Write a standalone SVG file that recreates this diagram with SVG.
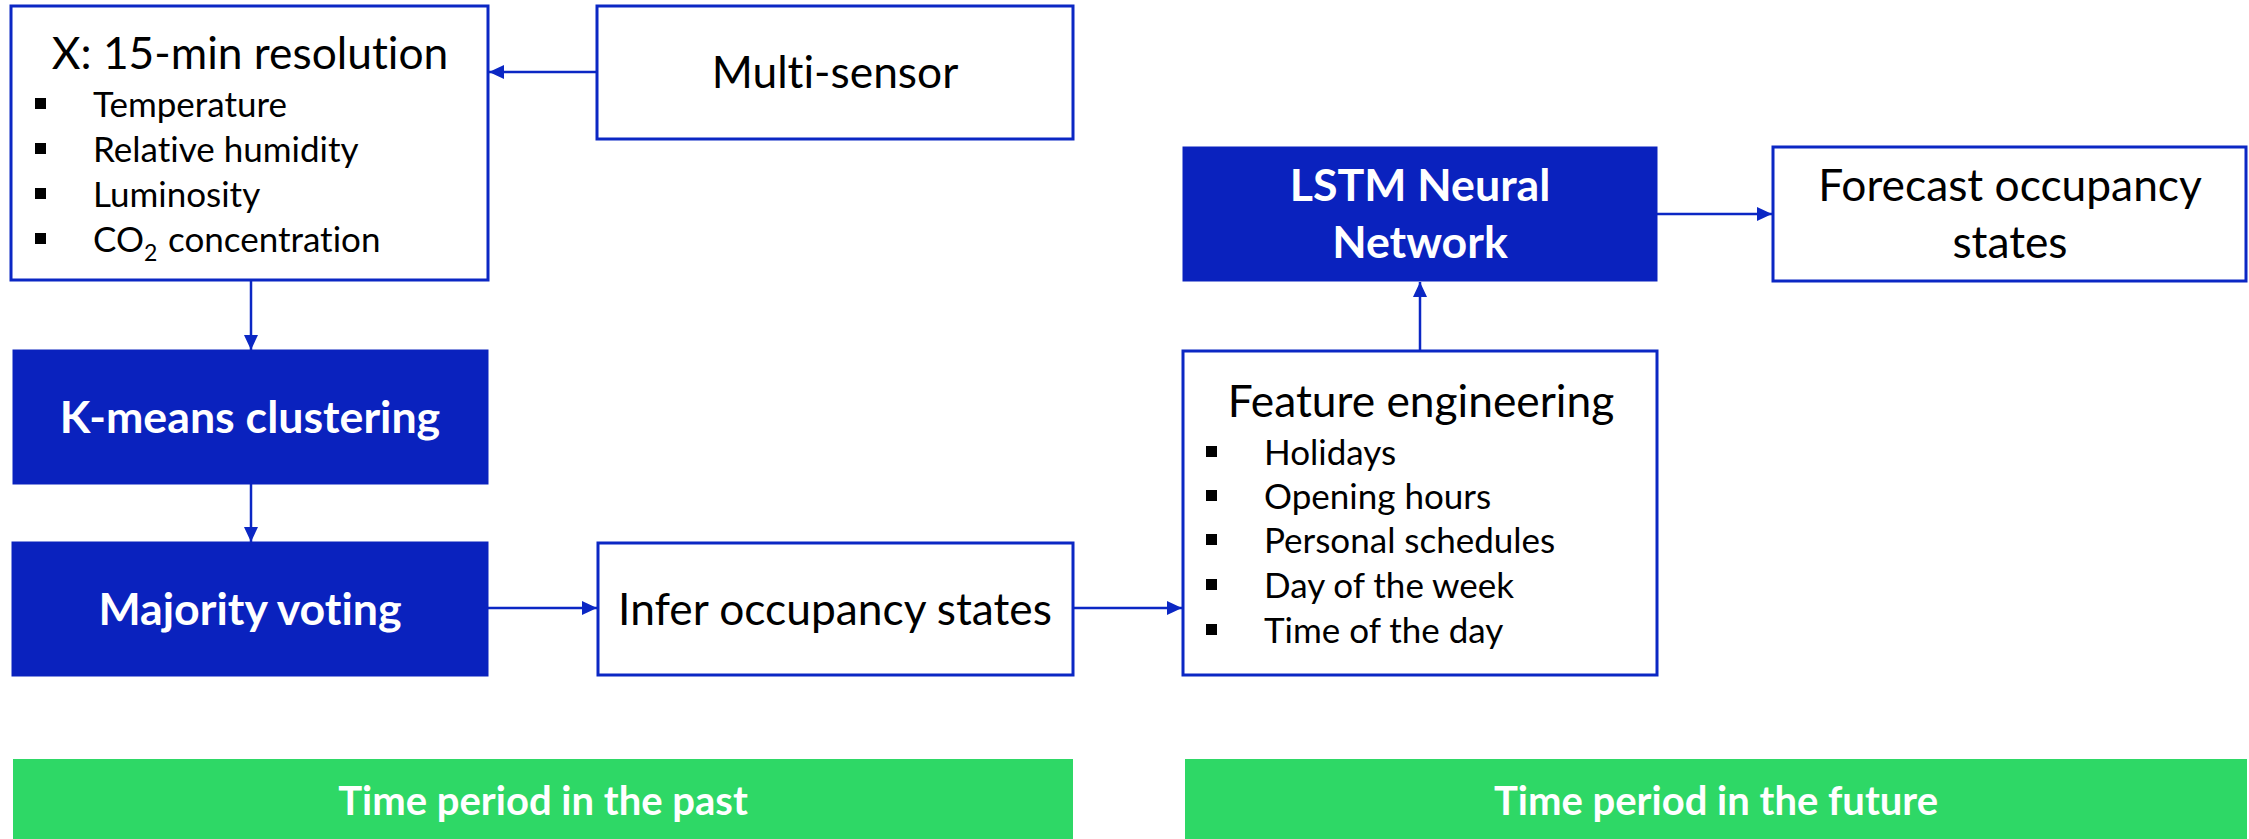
<svg xmlns="http://www.w3.org/2000/svg" width="2249" height="839" viewBox="0 0 2249 839">
<style>
text{font-variant-ligatures:none;font-feature-settings:"liga" 0}
.box{fill:#ffffff;stroke:#0B27C4;stroke-width:3}
.fbox{fill:#0A22BE;stroke:#0A22BE;stroke-width:1}
.band{fill:#2ED866}
.t{font-family:Lato,"Liberation Sans",sans-serif;fill:#000;font-size:44.3px}
.b{font-family:Lato,"Liberation Sans",sans-serif;fill:#000;font-size:35px}
.w{font-family:Lato,"Liberation Sans",sans-serif;fill:#fff;font-size:44.7px;font-weight:bold}
.g{font-family:Lato,"Liberation Sans",sans-serif;fill:#fff;font-size:40px;font-weight:bold}
.c{text-anchor:middle}
.sq{fill:#000}
.conn{stroke:#0B27C4;stroke-width:2.5;fill:none;marker-end:url(#ah)}
</style>
<defs>
<marker id="ah" markerUnits="userSpaceOnUse" markerWidth="15" markerHeight="14" refX="15" refY="7" orient="auto">
<path d="M0,0 L15,7 L0,14 z" fill="#0B27C4"/>
</marker>
</defs>
<rect width="2249" height="839" fill="#ffffff"/>
<g id="connectors">
<line class="conn" x1="597" y1="72" x2="489" y2="72"/>
<line class="conn" x1="251" y1="280" x2="251" y2="350"/>
<line class="conn" x1="251" y1="484" x2="251" y2="542"/>
<line class="conn" x1="488" y1="608" x2="597" y2="608"/>
<line class="conn" x1="1073" y1="608" x2="1182" y2="608"/>
<line class="conn" x1="1420" y1="351" x2="1420" y2="282"/>
<line class="conn" x1="1657" y1="214" x2="1772" y2="214"/>
</g>
<g id="node-x">
<rect class="box" x="11" y="6" width="477" height="274"/>
<text class="t c" x="250" y="69">X: 15-min resolution</text>
<rect class="sq" x="35" y="98" width="11" height="11"/>
<text class="b" x="93" y="117">Temperature</text>
<rect class="sq" x="35" y="143" width="11" height="11"/>
<text class="b" x="93" y="162">Relative humidity</text>
<rect class="sq" x="35" y="188" width="11" height="11"/>
<text class="b" x="93" y="207">Luminosity</text>
<rect class="sq" x="35" y="233" width="11" height="11"/>
<text class="b" x="93" y="252">CO<tspan dy="9" style="font-size:23px">2</tspan></text>
<text class="b" x="168" y="252">concentration</text>
</g>
<g id="node-multisensor">
<rect class="box" x="597" y="6" width="476" height="133"/>
<text class="t c" x="835" y="88">Multi-sensor</text>
</g>
<g id="node-kmeans">
<rect class="fbox" x="13" y="350" width="475" height="134"/>
<text class="w c" x="250" y="433">K-means clustering</text>
</g>
<g id="node-majority">
<rect class="fbox" x="12" y="542" width="476" height="134"/>
<text class="w c" x="250" y="625">Majority voting</text>
</g>
<g id="node-infer">
<rect class="box" x="598" y="543" width="475" height="132"/>
<text class="t c" x="835" y="625">Infer occupancy states</text>
</g>
<g id="node-feature">
<rect class="box" x="1183" y="351" width="474" height="324"/>
<text class="t c" x="1421" y="417">Feature engineering</text>
<rect class="sq" x="1206" y="446" width="11" height="11"/>
<text class="b" x="1264" y="465">Holidays</text>
<rect class="sq" x="1206" y="490" width="11" height="11"/>
<text class="b" x="1264" y="509">Opening hours</text>
<rect class="sq" x="1206" y="534" width="11" height="11"/>
<text class="b" x="1264" y="553">Personal schedules</text>
<rect class="sq" x="1206" y="579" width="11" height="11"/>
<text class="b" x="1264" y="598">Day of the week</text>
<rect class="sq" x="1206" y="624" width="11" height="11"/>
<text class="b" x="1264" y="643">Time of the day</text>
</g>
<g id="node-lstm">
<rect class="fbox" x="1183" y="147" width="474" height="134"/>
<text class="w c" x="1420" y="201">LSTM Neural</text>
<text class="w c" x="1420" y="258">Network</text>
</g>
<g id="node-forecast">
<rect class="box" x="1773" y="147" width="473" height="134"/>
<text class="t c" x="2010" y="201">Forecast occupancy</text>
<text class="t c" x="2010" y="258">states</text>
</g>
<g id="band-past">
<rect class="band" x="13" y="759" width="1060" height="80"/>
<text class="g c" x="543" y="815">Time period in the past</text>
</g>
<g id="band-future">
<rect class="band" x="1185" y="759" width="1062" height="80"/>
<text class="g c" x="1716" y="815">Time period in the future</text>
</g>
</svg>
